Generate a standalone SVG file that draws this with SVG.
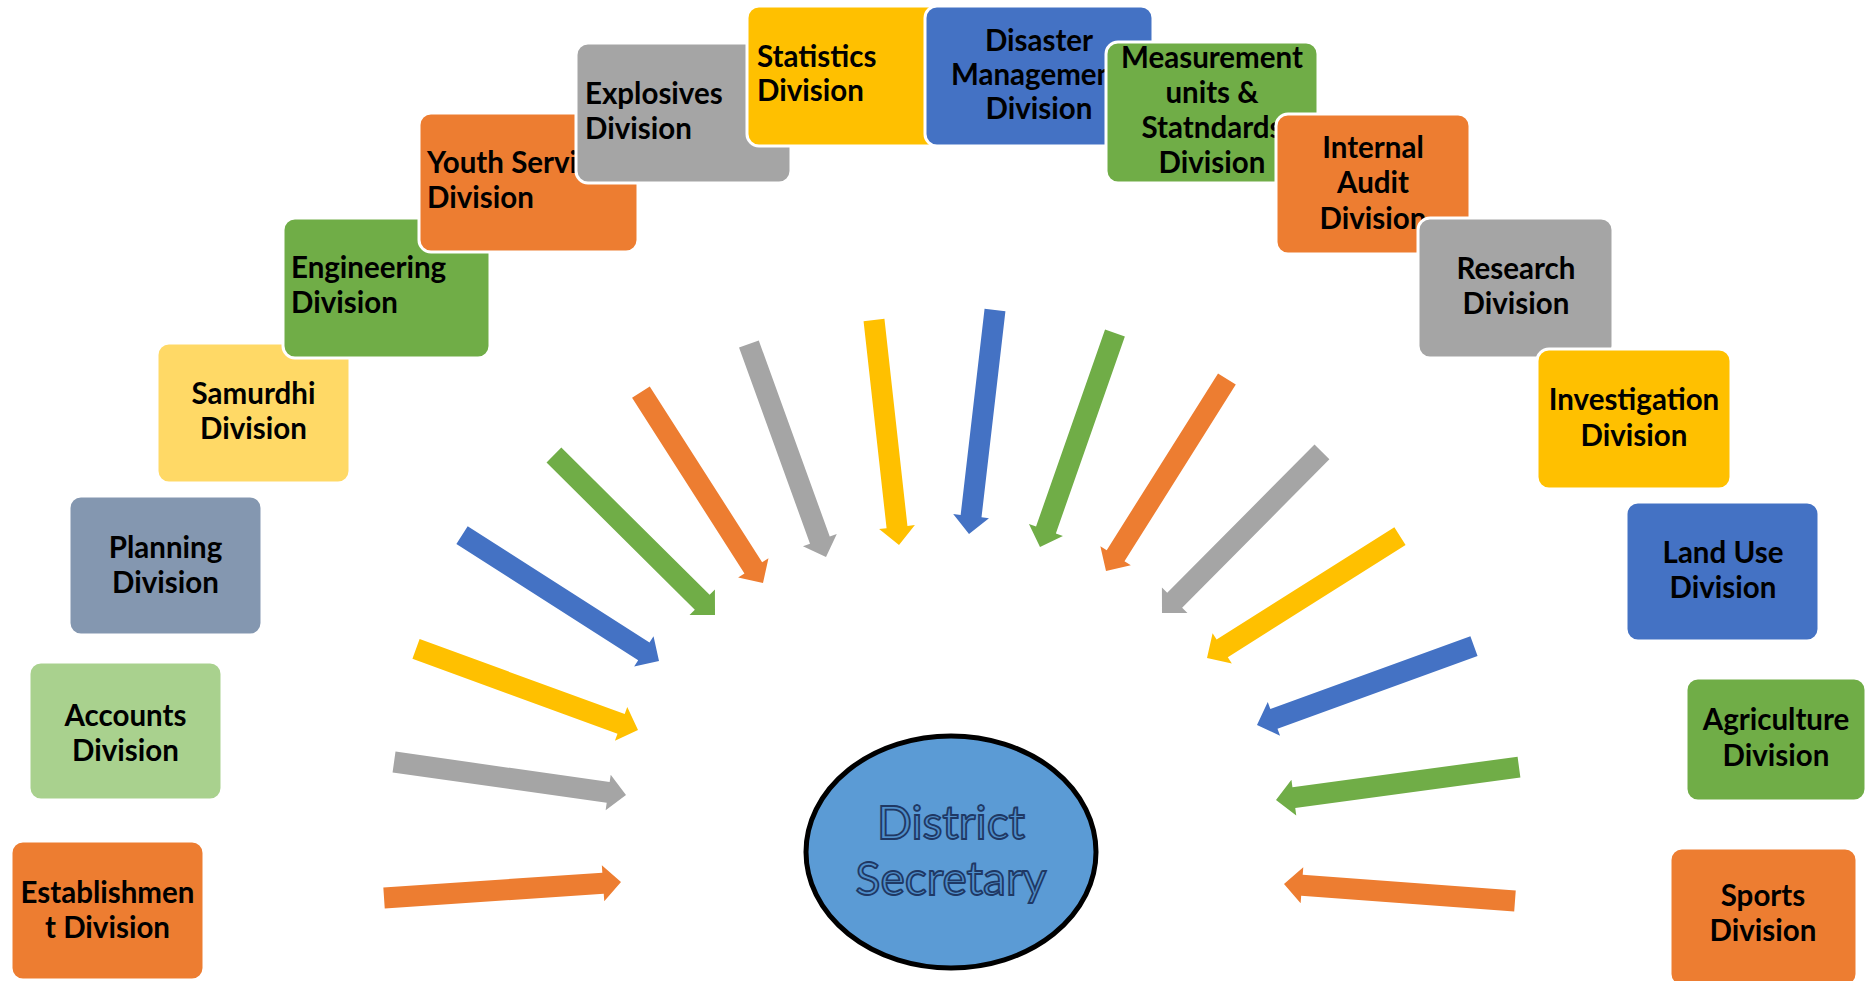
<svg xmlns="http://www.w3.org/2000/svg" width="1867" height="981" viewBox="0 0 1867 981">
<style>
  .box{stroke:#ffffff;stroke-width:3}
  .lbl{font-family:Lato,"Open Sans","Liberation Sans",sans-serif;font-weight:700;font-size:29.5px;fill:#000000}
  .c{text-anchor:middle}
  .orange{fill:#ED7D31}.gray{fill:#A5A5A5}.yellow{fill:#FFC000}.blue{fill:#4472C4}.green{fill:#70AD47}
  .ltyellow{fill:#FFD966}.slate{fill:#8497B0}.ltgreen{fill:#A9D18E}
  .center{font-family:Lato,"Open Sans","Liberation Sans",sans-serif;font-size:46px;fill:#4F8FCB;stroke:#1F3864;stroke-width:1.8;text-anchor:middle}
</style>
<rect width="1867" height="981" fill="#ffffff"/>
<g id="connectors">
  <path class="orange" transform="translate(621,882) rotate(-3.86)" d="M0,0 L-18,-18 L-18,-10.5 L-237.5,-10.5 L-237.5,10.5 L-18,10.5 L-18,18 Z"/>
  <path class="gray" transform="translate(626,795) rotate(8.10)" d="M0,0 L-18,-18 L-18,-10.5 L-234.3,-10.5 L-234.3,10.5 L-18,10.5 L-18,18 Z"/>
  <path class="yellow" transform="translate(638,730) rotate(20.05)" d="M0,0 L-18,-18 L-18,-10.5 L-236.3,-10.5 L-236.3,10.5 L-18,10.5 L-18,18 Z"/>
  <path class="blue" transform="translate(659,661) rotate(32.6)" d="M0,0 L-18,-18 L-18,-10.5 L-233.8,-10.5 L-233.8,10.5 L-18,10.5 L-18,18 Z"/>
  <path class="green" transform="translate(715,615) rotate(44.8)" d="M0,0 L-18,-18 L-18,-10.5 L-227,-10.5 L-227,10.5 L-18,10.5 L-18,18 Z"/>
  <path class="orange" transform="translate(763,583) rotate(57.4)" d="M0,0 L-18,-18 L-18,-10.5 L-226.6,-10.5 L-226.6,10.5 L-18,10.5 L-18,18 Z"/>
  <path class="gray" transform="translate(826,557) rotate(70.1)" d="M0,0 L-18,-18 L-18,-10.5 L-226.5,-10.5 L-226.5,10.5 L-18,10.5 L-18,18 Z"/>
  <path class="yellow" transform="translate(899,545) rotate(83.66)" d="M0,0 L-18,-18 L-18,-10.5 L-226.4,-10.5 L-226.4,10.5 L-18,10.5 L-18,18 Z"/>
  <path class="blue" transform="translate(969,534) rotate(96.62)" d="M0,0 L-18,-18 L-18,-10.5 L-225.5,-10.5 L-225.5,10.5 L-18,10.5 L-18,18 Z"/>
  <path class="green" transform="translate(1040,547) rotate(109.3)" d="M0,0 L-18,-18 L-18,-10.5 L-226.8,-10.5 L-226.8,10.5 L-18,10.5 L-18,18 Z"/>
  <path class="orange" transform="translate(1106,571) rotate(122.2)" d="M0,0 L-18,-18 L-18,-10.5 L-226.9,-10.5 L-226.9,10.5 L-18,10.5 L-18,18 Z"/>
  <path class="gray" transform="translate(1162,613) rotate(134.8)" d="M0,0 L-18,-18 L-18,-10.5 L-227,-10.5 L-227,10.5 L-18,10.5 L-18,18 Z"/>
  <path class="yellow" transform="translate(1207,658) rotate(147.7)" d="M0,0 L-18,-18 L-18,-10.5 L-228.3,-10.5 L-228.3,10.5 L-18,10.5 L-18,18 Z"/>
  <path class="blue" transform="translate(1257,725) rotate(160)" d="M0,0 L-18,-18 L-18,-10.5 L-230.9,-10.5 L-230.9,10.5 L-18,10.5 L-18,18 Z"/>
  <path class="green" transform="translate(1276,800) rotate(172.3)" d="M0,0 L-18,-18 L-18,-10.5 L-245.2,-10.5 L-245.2,10.5 L-18,10.5 L-18,18 Z"/>
  <path class="orange" transform="translate(1284,884) rotate(184.2)" d="M0,0 L-18,-18 L-18,-10.5 L-231.6,-10.5 L-231.6,10.5 L-18,10.5 L-18,18 Z"/>
</g>
<g id="establishment">
  <rect class="box orange" x="11" y="841" width="193" height="139" rx="12"/>
  <text class="lbl c" x="107.5" y="903">Establishmen</text>
  <text class="lbl c" x="107.5" y="938">t Division</text>
</g>
<g id="accounts">
  <rect class="box ltgreen" x="29" y="662" width="193" height="138" rx="12"/>
  <text class="lbl c" x="125.5" y="726">Accounts</text>
  <text class="lbl c" x="125.5" y="761">Division</text>
</g>
<g id="planning">
  <rect class="box slate" x="69" y="496" width="193" height="139" rx="12"/>
  <text class="lbl c" x="165.5" y="558">Planning</text>
  <text class="lbl c" x="165.5" y="593">Division</text>
</g>
<g id="samurdhi">
  <rect class="box ltyellow" x="157" y="343" width="193" height="140" rx="12"/>
  <text class="lbl c" x="253.5" y="404">Samurdhi</text>
  <text class="lbl c" x="253.5" y="439">Division</text>
</g>
<g id="engineering">
  <rect class="box green" x="283" y="218" width="207" height="140" rx="12"/>
  <text class="lbl" x="291" y="278">Engineering</text>
  <text class="lbl" x="291" y="313">Division</text>
</g>
<g id="youth-services">
  <rect class="box orange" x="419" y="113" width="219" height="139" rx="12"/>
  <text class="lbl" x="427" y="173">Youth Servi</text>
  <text class="lbl" x="427" y="208">Division</text>
</g>
<g id="explosives">
  <rect class="box gray" x="576" y="43" width="215" height="140" rx="12"/>
  <text class="lbl" x="585" y="104">Explosives</text>
  <text class="lbl" x="585" y="139">Division</text>
</g>
<g id="statistics">
  <rect class="box yellow" x="747" y="6" width="215" height="140" rx="12"/>
  <text class="lbl" x="757" y="67">Statistics</text>
  <text class="lbl" x="757" y="101">Division</text>
</g>
<g id="disaster-management">
  <rect class="box blue" x="925" y="6" width="228" height="140" rx="12"/>
  <text class="lbl c" x="1039" y="51">Disaster</text>
  <text class="lbl" x="951" y="85">Managemen</text>
  <text class="lbl c" x="1039" y="119">Division</text>
</g>
<g id="measurement">
  <rect class="box green" x="1106" y="42" width="212" height="141" rx="12"/>
  <text class="lbl c" x="1212" y="68">Measurement</text>
  <text class="lbl c" x="1212" y="103">units &amp;</text>
  <text class="lbl c" x="1212" y="138">Statndards</text>
  <text class="lbl c" x="1212" y="173">Division</text>
</g>
<g id="internal-audit">
  <rect class="box orange" x="1276" y="114" width="194" height="140" rx="12"/>
  <text class="lbl c" x="1373" y="158">Internal</text>
  <text class="lbl c" x="1373" y="193">Audit</text>
  <text class="lbl c" x="1373" y="229">Division</text>
</g>
<g id="research">
  <rect class="box gray" x="1418" y="218" width="195" height="140" rx="12"/>
  <text class="lbl c" x="1516" y="279">Research</text>
  <text class="lbl c" x="1516" y="314">Division</text>
</g>
<g id="investigation">
  <rect class="box yellow" x="1537" y="349" width="194" height="140" rx="12"/>
  <text class="lbl c" x="1634" y="410">Investigation</text>
  <text class="lbl c" x="1634" y="446">Division</text>
</g>
<g id="land-use">
  <rect class="box blue" x="1626" y="502" width="193" height="139" rx="12"/>
  <text class="lbl c" x="1723" y="563">Land Use</text>
  <text class="lbl c" x="1723" y="598">Division</text>
</g>
<g id="agriculture">
  <rect class="box green" x="1686" y="678" width="180" height="123" rx="12"/>
  <text class="lbl c" x="1776" y="730">Agriculture</text>
  <text class="lbl c" x="1776" y="766">Division</text>
</g>
<g id="sports">
  <rect class="box orange" x="1670" y="848" width="187" height="138" rx="12"/>
  <text class="lbl c" x="1763" y="906">Sports</text>
  <text class="lbl c" x="1763" y="941">Division</text>
</g>
<g id="district-secretary">
  <ellipse cx="951" cy="852" rx="145" ry="116" fill="#5B9BD5" stroke="#000000" stroke-width="5"/>
  <text class="center" x="951" y="839">District</text>
  <text class="center" x="951" y="895">Secretary</text>
</g>
</svg>
